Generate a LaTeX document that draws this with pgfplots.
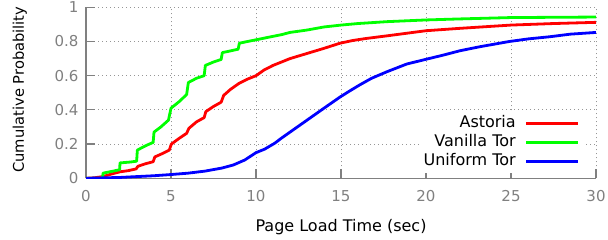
\documentclass[border=0pt]{standalone}
\usepackage{fontspec}
\setmainfont{DejaVu Sans}
\usepackage{pgfplots}
\pgfplotsset{compat=1.18}
\definecolor{axgray}{RGB}{128,128,128}
\definecolor{gridgray}{RGB}{150,150,150}
\begin{document}
\begin{tikzpicture}
\path[use as bounding box] (0,0) rectangle (608pt,240pt);
\begin{axis}[
  at={(86pt,61.7pt)}, anchor=south west,
  scale only axis, width=510pt, height=171pt,
  xmin=0, xmax=30, ymin=0, ymax=1,
  enlargelimits=false,
  axis lines=left,
  axis line style={-, axgray, line width=1.5pt},
  xtick={0,5,10,15,20,25,30},
  ytick={0,0.2,0.4,0.6,0.8,1},
  tick align=inside, major tick length=9pt,
  tick style={axgray, line width=1.2pt},
  grid=major,
  grid style={gridgray, line width=0.8pt, dash pattern=on 0.8pt off 3.2pt},
  /pgf/number format/assume math mode=true,
  ticklabel style={font=\fontsize{15}{18}\selectfont, text=axgray},
  xticklabel style={yshift=-8.4pt},
  yticklabel style={xshift=-4pt},
  xlabel={Page Load Time (sec)},
  xlabel style={font=\fontsize{16}{19}\selectfont, at={(axis description cs:0.5,0)}, anchor=base, yshift=-53.4pt},
  ylabel={Cumulative Probability},
  ylabel style={font=\fontsize{14.7}{17}\selectfont, at={(axis description cs:-0.1216,0.518)}, anchor=base},
  legend cell align=right,
  legend plot pos=right,
  legend image code/.code={\draw[#1, line width=3pt] (0pt,0pt) -- (52pt,0pt);},
  legend style={at={(axis cs:29.29,0.212)}, anchor=east, draw=none, fill=white,
    font=\fontsize{16}{19}\selectfont, inner xsep=4pt, inner ysep=2pt,
    /tikz/row sep=0pt, /tikz/column sep=8pt,
    nodes={inner sep=1pt, text height=12.5pt, text depth=4.5pt}},
]
\addplot[red, line width=2.8pt, line join=round] coordinates {
(0,0) (0.5,0.003) (1,0.01) (1.5,0.025) (2,0.038) (2.5,0.045) (2.95,0.055) (3.05,0.07) (3.5,0.085) (3.95,0.097) (4.05,0.125) (4.5,0.145) (4.9,0.165) (5.02,0.2) (5.5,0.235) (5.92,0.263) (6.05,0.292) (6.5,0.33) (6.95,0.355) (7.05,0.39) (7.5,0.42) (7.95,0.445) (8.1,0.485) (8.5,0.52) (9,0.555) (9.5,0.58) (10,0.60) (10.5,0.635) (11,0.66) (11.5,0.68) (12,0.70) (12.5,0.715) (13,0.73) (13.5,0.745) (14,0.76) (14.94,0.79) (15.7,0.806) (16.5,0.818) (17.7,0.833) (19,0.85) (20,0.863) (22,0.877) (25,0.896) (27.5,0.905) (30,0.912)
};
\addlegendentry{Astoria}
\addplot[green, line width=2.8pt, line join=round] coordinates {
(0,0) (0.98,0) (1.0,0.03) (1.5,0.04) (1.98,0.05) (2.0,0.09) (2.6,0.095) (2.98,0.10) (3.02,0.165) (3.5,0.19) (3.95,0.21) (4.0,0.27) (4.4,0.30) (4.85,0.34) (5.0,0.41) (5.5,0.45) (5.92,0.49) (6.02,0.56) (6.5,0.585) (6.95,0.60) (7.02,0.66) (7.5,0.68) (7.95,0.695) (8.02,0.735) (8.5,0.745) (8.95,0.755) (9.02,0.79) (9.5,0.80) (10,0.81) (10.5,0.82) (11,0.83) (11.5,0.84) (12,0.853) (12.5,0.86) (13,0.867) (14,0.885) (15,0.896) (16,0.905) (17.7,0.916) (20,0.926) (22,0.932) (25,0.94) (30,0.943)
};
\addlegendentry{Vanilla Tor}
\addplot[blue, line width=2.8pt, line join=round] coordinates {
(0,0) (2,0.005) (4,0.015) (5,0.022) (6,0.03) (7,0.042) (8,0.06) (8.67,0.078) (9.34,0.107) (10,0.15) (10.5,0.17) (11.1,0.205) (11.5,0.235) (12,0.27) (12.5,0.305) (13,0.34) (13.5,0.375) (14,0.41) (14.94,0.475) (15.5,0.51) (16.1,0.546) (16.8,0.585) (17.7,0.623) (18.86,0.668) (20,0.696) (21,0.72) (22,0.746) (23.2,0.77) (24.9,0.8) (26,0.815) (27.3,0.828) (28.5,0.843) (30,0.853)
};
\addlegendentry{Uniform Tor}
\end{axis}
\end{tikzpicture}
\end{document}
